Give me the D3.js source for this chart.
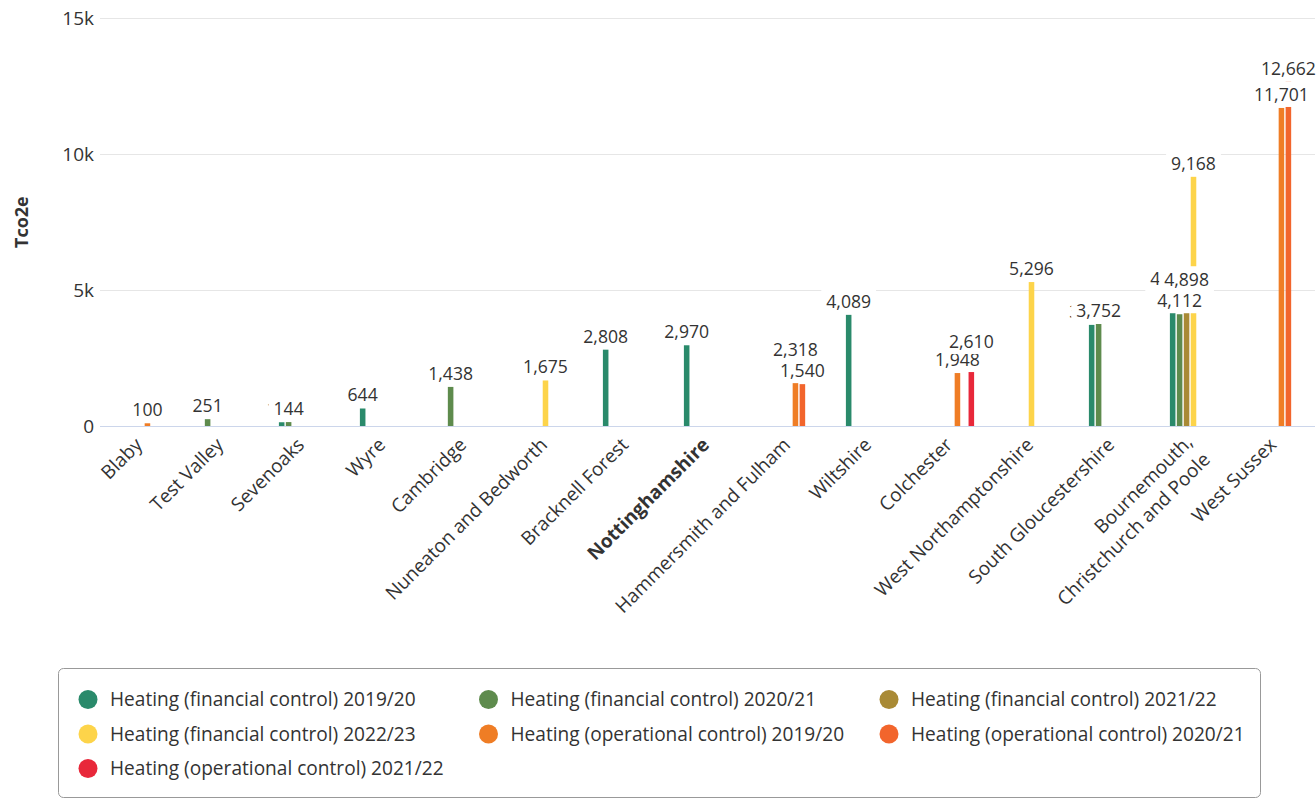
<!DOCTYPE html>
<html>
<head>
<meta charset="utf-8">
<script src="https://cdn.jsdelivr.net/npm/d3@7"></script>
<style>
  html, body { margin: 0; padding: 0; background: #fff; }
  svg { display: block; font-family: "Open Sans", sans-serif; }
</style>
</head>
<body>
<svg id="chart" width="1316" height="799"></svg>
<script>
// ---------- data ----------
const categories = [
  "Blaby", "Test Valley", "Sevenoaks", "Wyre", "Cambridge",
  "Nuneaton and Bedworth", "Bracknell Forest", "Nottinghamshire",
  "Hammersmith and Fulham", "Wiltshire", "Colchester",
  "West Northamptonshire", "South Gloucestershire",
  "Bournemouth, Christchurch and Poole", "West Sussex"
];
const boldCategory = "Nottinghamshire";

const seriesNames = [
  "Heating (financial control) 2019/20",
  "Heating (financial control) 2020/21",
  "Heating (financial control) 2021/22",
  "Heating (financial control) 2022/23",
  "Heating (operational control) 2019/20",
  "Heating (operational control) 2020/21",
  "Heating (operational control) 2021/22"
];
const seriesColors = ["#2a8a6b", "#5e8b4d", "#a98a35", "#fdd44a", "#ef7d25", "#f2652c", "#e8283a"];

//                       Blaby Test  Seven Wyre Camb Nune Brack Notts Hamm  Wilts Colch WNor  SGlo  BCP   WSus
const finControl2019 = [null, null, 138,  644, null, null, 2808, 2970, null, 4089, null, null, 3720, 4920, null];
const finControl2020 = [null, 251,  144,  null, 1438, null, null, null, null, null, null, null, 3752, 4112, null];
const finControl2021 = [null, null, null, null, null, null, null, null, null, null, null, null, null, 4898, null];
const finControl2022 = [null, null, null, null, null, 1675, null, null, null, null, null, 5296, null, 9168, null];
const opControl2019  = [100,  null, null, null, null, null, null, null, 2318, null, 1948, null, null, null, 11701];
const opControl2020  = [null, null, null, null, null, null, null, null, 1540, null, null, null, null, null, 12662];
const opControl2021  = [null, null, null, null, null, null, null, null, null, null, 2610, null, null, null, null];

const seriesValues = [finControl2019, finControl2020, finControl2021, finControl2022,
                      opControl2019, opControl2020, opControl2021];

const yTicks = [0, 5000, 10000, 15000];
const yTitle = "Tco2e";

// ---------- layout ----------
const svg = d3.select("#chart");
const plot = { left: 100, right: 1315, top: 18.3, bottom: 426 };
const textColor = "#333333";
const AXIS_FONT = 19;
const LABEL_FONT = 17.6;

const x0 = d3.scaleBand().domain(d3.range(categories.length)).range([plot.left, plot.right]).padding(0);
const groupPad = 0.2;
const x1 = d3.scaleBand().domain(d3.range(seriesNames.length))
  .range([x0.bandwidth() * groupPad, x0.bandwidth() * (1 - groupPad)]).padding(0);
const pointPad = 0.1;
const barW = x1.bandwidth() * (1 - 2 * pointPad);
const y = d3.scaleLinear().domain([0, 15000]).range([plot.bottom, plot.top]);

// gridlines
svg.append("g").selectAll("line").data(yTicks.filter(d => d > 0)).join("line")
  .attr("x1", plot.left).attr("x2", plot.right)
  .attr("y1", d => Math.round(y(d)) + 0.5).attr("y2", d => Math.round(y(d)) + 0.5)
  .attr("stroke", "#e6e6e6").attr("stroke-width", 1);

// y axis
const yAxis = d3.axisLeft(y).tickValues(yTicks).tickSize(0).tickPadding(0)
  .tickFormat(d => d === 0 ? "0" : (d / 1000) + "k");
const yg = svg.append("g").attr("transform", `translate(94,0)`).call(yAxis);
yg.select(".domain").remove();
yg.selectAll("text").attr("font-size", AXIS_FONT).attr("fill", textColor)
  .attr("font-family", "Open Sans").attr("dy", "0.32em").attr("text-anchor", "end");

// axis title
svg.append("text")
  .attr("transform", `translate(28,${(plot.top + plot.bottom) / 2}) rotate(-90)`)
  .attr("text-anchor", "middle").attr("font-weight", "bold")
  .attr("font-size", 18).attr("fill", textColor).text(yTitle);

// bars
const points = [];
seriesValues.forEach((arr, s) => arr.forEach((v, c) => {
  if (v != null) points.push({ s, c, v });
}));

svg.append("g").selectAll("rect").data(points).join("rect")
  .attr("x", d => x0(d.c) + x1(d.s) + x1.bandwidth() * pointPad)
  .attr("width", barW)
  .attr("y", d => y(d.v))
  .attr("height", d => y(0) - y(d.v))
  .attr("fill", d => seriesColors[d.s]);

// x axis baseline
svg.append("line")
  .attr("x1", plot.left).attr("x2", plot.right)
  .attr("y1", Math.round(y(0)) + 0.5).attr("y2", Math.round(y(0)) + 0.5)
  .attr("stroke", "#ccd6eb").attr("stroke-width", 1);

// x labels
const xl = svg.append("g");
categories.forEach((name, i) => {
  const cx = x0(i) + x0.bandwidth() / 2;
  const t = xl.append("text")
    .attr("transform", `translate(${cx + 3},${446}) rotate(-45)`)
    .attr("text-anchor", "end")
    .attr("font-size", AXIS_FONT).attr("fill", textColor)
    .attr("font-weight", name === boldCategory ? "bold" : "normal");
  if (name.includes(",")) {
    const parts = name.split(", ");
    t.append("tspan").attr("x", 0).attr("dy", "-0.2em").text(parts[0] + ",");
    t.append("tspan").attr("x", 0).attr("dy", "1.3em").text(parts[1]);
  } else {
    t.text(name);
  }
});

// data labels (drawn in series order with white background)
const fmt = d3.format(",");
const dl = svg.append("g");
seriesValues.forEach((arr, s) => {
  arr.forEach((v, c) => {
    if (v == null) return;
    const cx = x0(c) + x1(s) + x1.bandwidth() / 2;
    const base = y(v) - 7;
    const g = dl.append("g");
    const r = g.append("rect").attr("fill", "#ffffff");
    const t = g.append("text").attr("x", cx).attr("y", base)
      .attr("text-anchor", "middle").attr("font-size", LABEL_FONT)
      .attr("fill", textColor).text(fmt(v));
    const bb = t.node().getBBox();
    r.attr("x", bb.x - 5).attr("y", base - 19).attr("width", bb.width + 10).attr("height", 25);
  });
});

// legend
const lg = svg.append("g");
lg.append("rect").attr("x", 58.5).attr("y", 668.5).attr("width", 1202).attr("height", 129)
  .attr("rx", 5).attr("ry", 5).attr("fill", "#fff").attr("stroke", "#999999").attr("stroke-width", 1);
seriesNames.forEach((name, i) => {
  const col = i % 3, row = Math.floor(i / 3);
  const gx = 88 + col * 400.5, gy = 699.5 + row * 34.5;
  lg.append("circle").attr("cx", gx).attr("cy", gy).attr("r", 9.5).attr("fill", seriesColors[i]);
  lg.append("text").attr("x", gx + 22).attr("y", gy).attr("dy", "0.35em")
    .attr("font-size", 19.1).attr("fill", textColor).text(name);
});
</script>
</body>
</html>
